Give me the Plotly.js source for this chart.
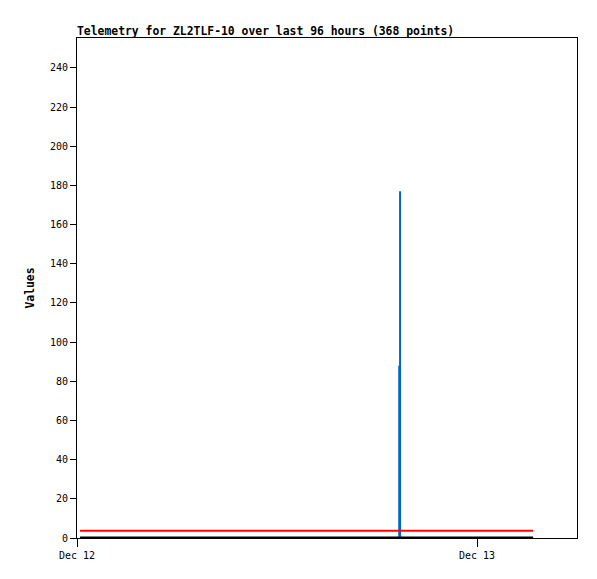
<!DOCTYPE html>
<html>
<head>
<meta charset="utf-8">
<script src="https://cdn.plot.ly/plotly-3.0.1.min.js"></script>
<style>html,body{margin:0;padding:0;background:#fff;}#chart{width:597px;height:579px;}</style>
</head>
<body>
<div id="chart"></div>
<script>
// Series data
const redTimes = ["2024-12-12 00:11", "2024-12-13 03:22"];
const redValues = [3.7, 3.7];
const blackTimes = ["2024-12-12 00:11", "2024-12-13 03:22"];
const blackValues = [0.3, 0.3];
const blueTimes = ["2024-12-12 19:19", "2024-12-12 19:20", "2024-12-12 19:20", "2024-12-12 19:20", "2024-12-12 19:23", "2024-12-12 19:23", "2024-12-12 19:23"];
const blueValues = [0, 0, 88, 0, 0, 177, 0];
const tickDates = ["2024-12-12 00:00", "2024-12-13 00:00"];
const tickLabels = ["Dec 12", "Dec 13"];
const yTickVals = [0, 20, 40, 60, 80, 100, 120, 140, 160, 180, 200, 220, 240];

const mono = "DejaVu Sans Mono, Liberation Mono, monospace";

const traces = [
  {x: blueTimes, y: blueValues, type: "scatter", mode: "lines", line: {color: "#0066cc", width: 2}, hoverinfo: "none"},
  {x: redTimes, y: redValues, type: "scatter", mode: "lines", line: {color: "#ff0000", width: 2}, hoverinfo: "none"},
  {x: blackTimes, y: blackValues, type: "scatter", mode: "lines", line: {color: "#000000", width: 2}, hoverinfo: "none"}
];

const layout = {
  width: 597, height: 579,
  margin: {l: 77, r: 20, t: 38, b: 41, pad: 0},
  paper_bgcolor: "#fff", plot_bgcolor: "#fff",
  showlegend: false,
  font: {family: mono, size: 10, color: "#000"},
  title: {text: "<b>Telemetry for ZL2TLF-10 over last 96 hours (368 points)</b>", x: 0, xref: "paper", xanchor: "left", y: 1, yref: "paper", yanchor: "bottom", pad: {b: 3}, font: {family: mono, size: 11.4, color: "#000"}},
  xaxis: {
    type: "date", range: ["2024-12-12 00:00", "2024-12-13 06:00"],
    tickvals: tickDates, ticktext: tickLabels, tickmode: "array",
    ticks: "outside", ticklen: 8, tickcolor: "#000", tickwidth: 1,
    showgrid: false, zeroline: false, showline: true, linecolor: "#000", linewidth: 1, mirror: true,
    tickfont: {family: mono, size: 10, color: "#000"}, fixedrange: true
  },
  yaxis: {
    range: [0, 255.3], tickvals: yTickVals, tickmode: "array",
    ticks: "outside", ticklen: 6, tickcolor: "#000", tickwidth: 1,
    showgrid: false, zeroline: false, showline: true, linecolor: "#000", linewidth: 1, mirror: true,
    tickfont: {family: mono, size: 10, color: "#000"},
    title: {text: "<b>Values</b>", standoff: 12, font: {family: mono, size: 11.4, color: "#000"}},
    fixedrange: true
  }
};

Plotly.newPlot("chart", traces, layout, {staticPlot: true, displayModeBar: false});
</script>
</body>
</html>
